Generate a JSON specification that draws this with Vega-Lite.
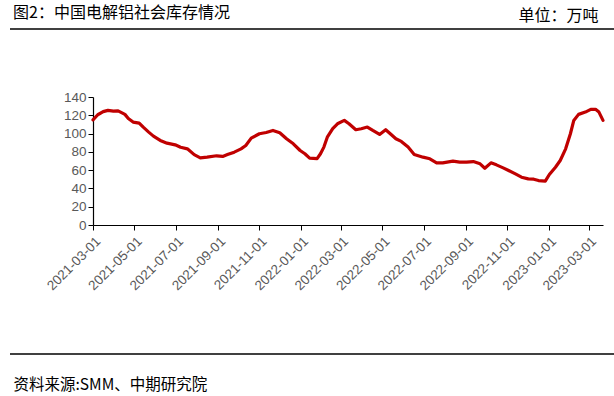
{
  "$schema": "https://vega.github.io/schema/vega-lite/v6.json",
  "width": 510,
  "height": 128,
  "autosize": {"type": "none"},
  "padding": {"left": 93, "top": 97, "right": 11, "bottom": 171},
  "background": "white",
  "config": {"view": {"stroke": null}},
  "title": {
    "text": "图2：中国电解铝社会库存情况",
    "anchor": "start",
    "frame": "group",
    "dx": -80,
    "offset": -14,
    "font": "Noto Sans CJK SC",
    "fontSize": 16,
    "fontWeight": "normal",
    "color": "#000000"
  },
  "layer": [
    {
      "data": {
        "values": [
          {"date": "2021-03-01", "value": 115},
          {"date": "2021-03-08", "value": 120.6},
          {"date": "2021-03-16", "value": 124},
          {"date": "2021-03-23", "value": 125.4},
          {"date": "2021-03-31", "value": 124.6},
          {"date": "2021-04-07", "value": 124.8},
          {"date": "2021-04-17", "value": 121},
          {"date": "2021-04-22", "value": 116.5},
          {"date": "2021-04-29", "value": 112.6},
          {"date": "2021-05-08", "value": 111.5},
          {"date": "2021-05-14", "value": 107},
          {"date": "2021-05-22", "value": 101.6},
          {"date": "2021-05-29", "value": 97.2},
          {"date": "2021-06-08", "value": 92.5},
          {"date": "2021-06-18", "value": 89.5},
          {"date": "2021-06-30", "value": 87.7},
          {"date": "2021-07-08", "value": 85},
          {"date": "2021-07-18", "value": 83.3},
          {"date": "2021-07-28", "value": 77},
          {"date": "2021-08-06", "value": 73.5},
          {"date": "2021-08-16", "value": 74.2},
          {"date": "2021-08-30", "value": 75.7},
          {"date": "2021-09-08", "value": 75},
          {"date": "2021-09-15", "value": 77},
          {"date": "2021-09-25", "value": 79.7},
          {"date": "2021-10-05", "value": 83.3},
          {"date": "2021-10-12", "value": 87},
          {"date": "2021-10-20", "value": 95},
          {"date": "2021-11-01", "value": 99.8},
          {"date": "2021-11-11", "value": 101.2},
          {"date": "2021-11-21", "value": 103.4},
          {"date": "2021-12-01", "value": 100.9},
          {"date": "2021-12-11", "value": 94.3},
          {"date": "2021-12-21", "value": 88.8},
          {"date": "2021-12-31", "value": 81.5},
          {"date": "2022-01-07", "value": 77.9},
          {"date": "2022-01-14", "value": 73.1},
          {"date": "2022-01-25", "value": 72.6},
          {"date": "2022-01-30", "value": 77.9},
          {"date": "2022-02-04", "value": 85.2},
          {"date": "2022-02-09", "value": 96},
          {"date": "2022-02-17", "value": 105.3},
          {"date": "2022-02-24", "value": 110.7},
          {"date": "2022-03-06", "value": 114.4},
          {"date": "2022-03-13", "value": 110.7},
          {"date": "2022-03-23", "value": 104.2},
          {"date": "2022-03-31", "value": 105.3},
          {"date": "2022-04-09", "value": 107.1},
          {"date": "2022-04-17", "value": 103.4},
          {"date": "2022-04-27", "value": 99},
          {"date": "2022-05-06", "value": 104.2},
          {"date": "2022-05-14", "value": 99},
          {"date": "2022-05-21", "value": 94.3},
          {"date": "2022-05-29", "value": 91.4},
          {"date": "2022-06-08", "value": 85.2},
          {"date": "2022-06-17", "value": 77.1},
          {"date": "2022-06-30", "value": 74.2},
          {"date": "2022-07-10", "value": 72.4},
          {"date": "2022-07-20", "value": 68},
          {"date": "2022-07-29", "value": 68},
          {"date": "2022-08-13", "value": 69.8},
          {"date": "2022-08-23", "value": 68.7},
          {"date": "2022-09-02", "value": 68.7},
          {"date": "2022-09-12", "value": 69.4},
          {"date": "2022-09-22", "value": 66.9},
          {"date": "2022-09-29", "value": 62.1},
          {"date": "2022-10-08", "value": 68},
          {"date": "2022-10-16", "value": 65.8},
          {"date": "2022-10-26", "value": 62.5},
          {"date": "2022-11-03", "value": 59.6},
          {"date": "2022-11-13", "value": 55.9},
          {"date": "2022-11-22", "value": 52.3},
          {"date": "2022-12-02", "value": 50.4},
          {"date": "2022-12-10", "value": 50.1},
          {"date": "2022-12-17", "value": 48.6},
          {"date": "2022-12-27", "value": 47.9},
          {"date": "2023-01-02", "value": 55.2},
          {"date": "2023-01-11", "value": 63.2},
          {"date": "2023-01-18", "value": 70.5},
          {"date": "2023-01-26", "value": 83.3},
          {"date": "2023-02-02", "value": 99.8},
          {"date": "2023-02-07", "value": 114.4},
          {"date": "2023-02-14", "value": 121},
          {"date": "2023-02-24", "value": 123.5},
          {"date": "2023-03-04", "value": 126.5},
          {"date": "2023-03-11", "value": 126.5},
          {"date": "2023-03-16", "value": 123.5},
          {"date": "2023-03-22", "value": 114.4}
        ]
      },
      "mark": {"type": "line", "color": "#C00000", "strokeWidth": 3.2, "strokeJoin": "round", "strokeCap": "round"},
      "encoding": {
        "x": {
          "field": "date",
          "type": "temporal",
          "scale": {"type": "utc", "domain": [{"year": 2021, "month": 3, "date": 1, "utc": true}, {"year": 2023, "month": 3, "date": 22, "utc": true}]},
          "axis": {
            "tickCount": {"interval": "month", "step": 2},
            "format": "%Y-%m-%d",
            "labelAngle": -45,
            "labelFont": "Liberation Sans",
            "labelFontSize": 13.5,
            "labelColor": "#595959",
            "labelPadding": 4,
            "labelOverlap": false,
            "grid": false,
            "domainColor": "#000000",
            "domainWidth": 1.2,
            "tickColor": "#000000",
            "tickSize": 5,
            "title": "资料来源:SMM、中期研究院",
            "titleFont": "Noto Sans CJK SC",
            "titleFontSize": 15.5,
            "titleFontWeight": "normal",
            "titleColor": "#000000",
            "titleAnchor": "start",
            "titleAlign": "left",
            "titleBaseline": "alphabetic",
            "titleX": -80,
            "titleY": 164
          }
        },
        "y": {
          "field": "value",
          "type": "quantitative",
          "scale": {"domain": [0, 140]},
          "axis": {
            "values": [0, 20, 40, 60, 80, 100, 120, 140],
            "labelFont": "Liberation Sans",
            "labelFontSize": 13.5,
            "labelColor": "#595959",
            "grid": false,
            "domainColor": "#000000",
            "domainWidth": 1.2,
            "tickColor": "#000000",
            "tickSize": 5,
            "title": "单位：万吨",
            "titleAngle": 0,
            "titleFont": "Noto Sans CJK SC",
            "titleFontSize": 16,
            "titleFontWeight": "normal",
            "titleColor": "#000000",
            "titleAlign": "left",
            "titleBaseline": "alphabetic",
            "titleX": 425,
            "titleY": -77
          }
        }
      }
    },
    {
      "data": {"values": [{"pos": "top"}]},
      "mark": {"type": "rule", "color": "#000000", "strokeWidth": 1.5},
      "encoding": {
        "x": {"value": -83},
        "x2": {"value": 521},
        "y": {"value": -68}
      }
    },
    {
      "data": {"values": [{"pos": "bottom"}]},
      "mark": {"type": "rule", "color": "#000000", "strokeWidth": 1.5},
      "encoding": {
        "x": {"value": -83},
        "x2": {"value": 521},
        "y": {"value": 257}
      }
    }
  ]
}
